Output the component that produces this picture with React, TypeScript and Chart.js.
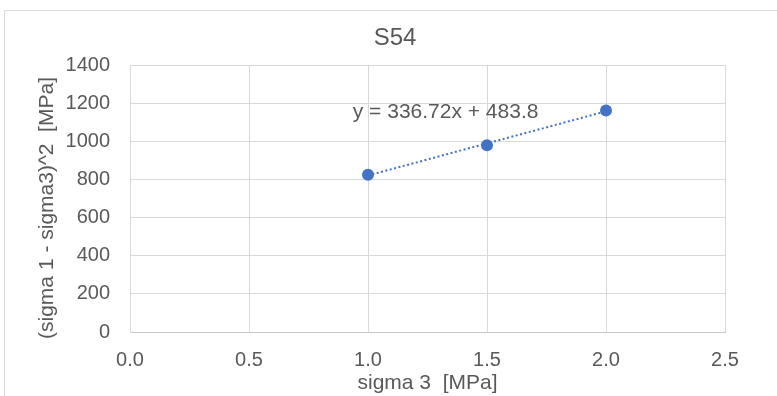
import React, { useEffect, useRef } from "react";
import { Chart, registerables } from "chart.js";

Chart.register(...registerables);

const CHART_TITLE = "S54";
const X_AXIS_TITLE = "sigma 3  [MPa]";
const Y_AXIS_TITLE = "(sigma 1 - sigma3)^2  [MPa]";
const SIGMA3 = [1.0, 1.5, 2.0];
const DEV_SQ = [824, 979, 1161];
const X_TICKS = [0, 0.5, 1.0, 1.5, 2.0, 2.5];
const Y_TICKS = [0, 200, 400, 600, 800, 1000, 1200, 1400];
const TREND_SLOPE = 336.72;
const TREND_INTERCEPT = 483.8;
const TREND_LABEL = "y = 336.72x + 483.8";

const FONT = '"Liberation Sans", Arial, sans-serif';
const TEXT_COLOR = "#595959";
const SERIES_COLOR = "#4472C4";
const GRID_COLOR = "#d9d9d9";

const textPlugin = {
  id: "excelTexts",
  afterDraw(chart: any) {
    const { ctx, scales } = chart;
    ctx.save();
    ctx.fillStyle = TEXT_COLOR;
    ctx.textAlign = "center";
    ctx.textBaseline = "middle";
    ctx.font = `24px ${FONT}`;
    ctx.fillText(CHART_TITLE, 395, 38);

    ctx.font = `21px ${FONT}`;
    ctx.save();
    ctx.translate(47, 208);
    ctx.rotate(-Math.PI / 2);
    ctx.fillText(Y_AXIS_TITLE, 0, 0);
    ctx.restore();

    ctx.fillText(X_AXIS_TITLE, (chart.chartArea.left + chart.chartArea.right) / 2, 383);

    ctx.textAlign = "left";
    ctx.fillText(TREND_LABEL, scales.x.getPixelForValue(0.936), scales.y.getPixelForValue(1150));
    ctx.restore();
  },
};

export default function App() {
  const canvasRef = useRef<HTMLCanvasElement | null>(null);

  useEffect(() => {
    if (!canvasRef.current) return;
    const xStart = SIGMA3[0];
    const xEnd = SIGMA3[SIGMA3.length - 1];
    const trend = [
      { x: xStart, y: TREND_SLOPE * xStart + TREND_INTERCEPT },
      { x: xEnd, y: TREND_SLOPE * xEnd + TREND_INTERCEPT },
    ];
    const chart = new Chart(canvasRef.current, {
      type: "scatter",
      data: {
        datasets: [
          {
            label: "data",
            data: SIGMA3.map((x, i) => ({ x, y: DEV_SQ[i] })),
            backgroundColor: SERIES_COLOR,
            borderColor: SERIES_COLOR,
            pointRadius: 6,
            pointBorderWidth: 0,
            showLine: false,
            order: 0,
          },
          {
            label: "trend",
            data: trend,
            showLine: true,
            borderColor: SERIES_COLOR,
            borderWidth: 2,
            borderDash: [2, 2.5],
            pointRadius: 0,
            fill: false,
            order: 1,
          },
        ],
      },
      options: {
        responsive: false,
        animation: false,
        devicePixelRatio: 1,
        layout: { padding: { left: 0, right: 52, top: 65, bottom: 0 } },
        plugins: {
          legend: { display: false },
          tooltip: { enabled: false },
          title: { display: false },
        },
        scales: {
          x: {
            type: "linear",
            min: X_TICKS[0],
            max: X_TICKS[X_TICKS.length - 1],
            afterBuildTicks: (s: any) => {
              s.ticks = X_TICKS.map((v) => ({ value: v }));
            },
            afterFit: (s: any) => {
              s.height = 64;
            },
            grid: { color: GRID_COLOR, lineWidth: 1, drawTicks: false },
            border: { color: "#c8c8c8", width: 1 },
            ticks: {
              padding: 16,
              color: TEXT_COLOR,
              font: { family: FONT, size: 20 },
              callback: (v: any) => Number(v).toFixed(1),
            },
          },
          y: {
            type: "linear",
            min: Y_TICKS[0],
            max: Y_TICKS[Y_TICKS.length - 1],
            afterBuildTicks: (s: any) => {
              s.ticks = Y_TICKS.map((v) => ({ value: v }));
            },
            afterFit: (s: any) => {
              s.width = 130;
            },
            grid: { color: GRID_COLOR, lineWidth: 1, drawTicks: false },
            border: { color: GRID_COLOR, width: 1 },
            ticks: {
              padding: 20,
              color: TEXT_COLOR,
              font: { family: FONT, size: 20 },
              callback: (v: any) => String(v),
            },
          },
        },
      },
      plugins: [textPlugin],
    } as any);
    return () => chart.destroy();
  }, []);

  return (
    <div
      style={{
        position: "absolute",
        left: 0,
        top: 0,
        width: 777,
        height: 396,
        overflow: "hidden",
        background: "#ffffff",
      }}
    >
      <div
        style={{
          position: "absolute",
          left: 4,
          top: 10,
          width: 800,
          height: 420,
          border: "1px solid #d9d9d9",
        }}
      />
      <canvas
        ref={canvasRef}
        width={777}
        height={396}
        style={{ position: "absolute", left: 0, top: 0, width: 777, height: 396 }}
      />
    </div>
  );
}
